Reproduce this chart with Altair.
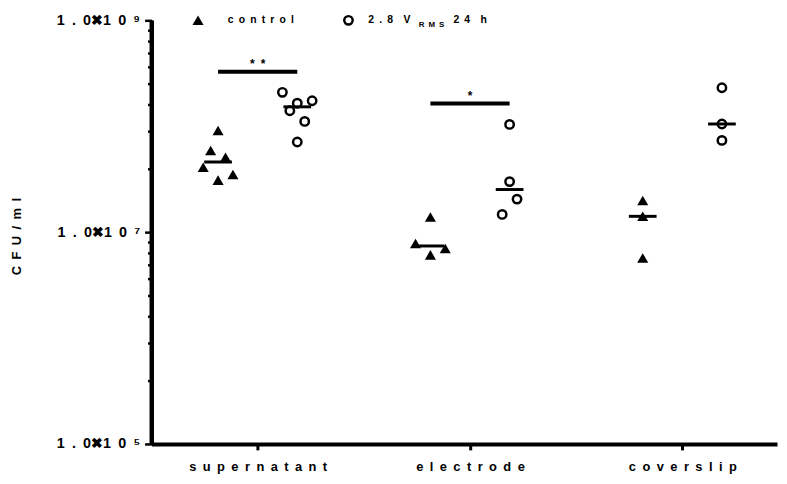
import altair as alt
import pandas as pd

# ---- data ----
categories = ["supernatant", "electrode", "coverslip"]
groups = ["control", "2.8 V RMS 24 h"]

sup_control = [9.1e7, 5.9e7, 5.1e7, 4.1e7, 3.1e7, 3.5e7]
sup_control_slot = [0, -1, 1, -2, 0, 2]
sup_treated = [2.09e8, 1.65e8, 1.74e8, 1.40e8, 1.11e8, 7.1e7]
sup_treated_slot = [-2, 0, 2, -1, 1, 0]

ele_control = [1.39e7, 7.8e6, 7.0e6, 6.1e6]
ele_control_slot = [0, -2, 2, 0]
ele_treated = [1.04e8, 3.0e7, 2.05e7, 1.47e7]
ele_treated_slot = [0, 0, 1, -1]

cov_control = [1.99e7, 1.41e7, 5.7e6]
cov_control_slot = [0, 0, 0]
cov_treated = [2.31e8, 1.05e8, 7.35e7]
cov_treated_slot = [0, 0, 0]

sig_categories = ["supernatant", "electrode"]
sig_labels = ["*\u2002*", "*"]
sig_values = [3.27e8, 1.64e8]

y_major = [1e5, 1e7, 1e9]
minor_mult = [4, 9, 16, 25, 36, 49, 64, 81]
x_domain = [-0.5, 2.446]

# ---- build table ----
rows = []
series = [
    ("supernatant", "control", sup_control, sup_control_slot),
    ("supernatant", groups[1], sup_treated, sup_treated_slot),
    ("electrode", "control", ele_control, ele_control_slot),
    ("electrode", groups[1], ele_treated, ele_treated_slot),
    ("coverslip", "control", cov_control, cov_control_slot),
    ("coverslip", groups[1], cov_treated, cov_treated_slot),
]
for cat, grp, vals, slots in series:
    for v, s in zip(vals, slots):
        rows.append({"ci": categories.index(cat),
                     "gs": -1 if grp == "control" else 1,
                     "slot": s, "value": v, "group": grp})
df = pd.DataFrame(rows)

sig_df = pd.DataFrame({"ci": [categories.index(c) for c in sig_categories],
                       "label": sig_labels, "value": sig_values})

GOFF = 0.1865
SLOT = 0.035
FONT = "Liberation Sans"
ES = "\u2002"

tick_values = y_major + [m * b for b in [1e5, 1e7] for m in minor_mult]
major_test = " || ".join(f"datum.value == {v:.0f}" for v in y_major)
sup = {5: "\u2075", 7: "\u2077", 9: "\u2079"}
lab = lambda e: f"1{ES}.{ES}0\u27161{ES}0{ES}{sup[e]}"
y_label_expr = (f"datum.value == 1e9 ? '{lab(9)}' : datum.value == 1e7 ? '{lab(7)}' : "
                f"datum.value == 1e5 ? '{lab(5)}' : ''")

x_labels = [ES.join(list(c)) for c in categories]
x_label_expr = "[" + ",".join(f"'{s}'" for s in x_labels) + "][datum.value]"

xs = alt.Scale(domain=x_domain, nice=False, zero=False, padding=0)
ys = alt.Scale(type="log", domain=[y_major[0], y_major[-1]], nice=False)

X = alt.X("x:Q", scale=xs, title=None,
          axis=alt.Axis(values=[0, 1, 2], labelExpr=x_label_expr, grid=False,
                        domainWidth=4, domainColor="black", tickColor="black",
                        tickWidth=3, tickSize=6, labelPadding=11,
                        labelFont=FONT, labelFontWeight="bold", labelFontSize=13,
                        labelColor="black"))
Y = alt.Y("y:Q", scale=ys,
          axis=alt.Axis(values=tick_values, labelExpr=y_label_expr, grid=False,
                        domainWidth=4, domainColor="black",
                        tickColor="black", tickWidth=2.5,
                        tickSize={"condition": {"test": major_test, "value": 7}, "value": 4},
                        labelPadding=5, labelFont=FONT, labelFontWeight="bold",
                        labelFontSize=14.5, labelColor="black",
                        title=ES.join(list("CFU/ml")), titleFont=FONT,
                        titleFontWeight="bold", titleFontSize=13, titleColor="black",
                        titleX=-136, titleY=218, titleAngle=270,
                        titleAlign="center", titleBaseline="middle"))

base = alt.Chart(df).transform_calculate(
    x=f"datum.ci + datum.gs * {GOFF} + datum.slot * {SLOT}", y="datum.value")

tri = base.transform_filter("datum.gs < 0").mark_point(
    shape="triangle-up", filled=True, size=125, color="black", opacity=1
).encode(x=X, y=Y)

circ = base.transform_filter("datum.gs > 0").mark_point(
    shape="circle", filled=False, size=72, color="black", strokeWidth=2.5, opacity=1
).encode(x=X, y=Y)

med = alt.Chart(df).transform_aggregate(
    med="median(value)", groupby=["ci", "gs"]
).transform_calculate(
    x=f"datum.ci + datum.gs * {GOFF}", y="datum.med"
).mark_tick(orient="horizontal", size=28, thickness=3, color="black", opacity=1
).encode(x=X, y=Y)

sig = alt.Chart(sig_df).transform_calculate(
    x=f"datum.ci - {GOFF}", x2=f"datum.ci + {GOFF}", y="datum.value")
sig_bar = sig.mark_rule(strokeWidth=4, color="black").encode(
    x=X, x2="x2:Q", y=Y)
sig_txt = alt.Chart(sig_df).transform_calculate(
    x="datum.ci", y="datum.value"
).mark_text(
    font=FONT, fontWeight="bold", fontSize=12, baseline="bottom", dy=-1, color="black"
).encode(x=X, y=Y, text="label:N")

# thick y axis line along the domain, drawn as a thin filled bar
yline_df = pd.DataFrame({"x": [x_domain[0]], "y": [y_major[0]], "y2": [y_major[-1]]})
yline = alt.Chart(yline_df).mark_bar(width=4, color="black", opacity=1).encode(
    x=X, y=Y, y2="y2:Q")

# ---- legend ----
leg_df = pd.DataFrame({"g": groups})
LFS = 10.5
leg_tri = alt.Chart(leg_df).transform_filter("datum.g == 'control'").mark_point(
    shape="triangle-up", filled=True, size=125, color="black", opacity=1
).encode(x=alt.value(47), y=alt.value(0))
leg_circ = alt.Chart(leg_df).transform_filter("datum.g != 'control'").mark_point(
    shape="circle", filled=False, size=72, color="black", strokeWidth=2.5, opacity=1
).encode(x=alt.value(199), y=alt.value(0))
leg_t1 = alt.Chart(leg_df).transform_filter("datum.g == 'control'").transform_calculate(
    t="join(split(datum.g, ''), '\u2002')"
).mark_text(font=FONT, fontWeight="bold", fontSize=LFS, align="left",
            baseline="middle", color="black").encode(
    x=alt.value(77), y=alt.value(0), text="t:N")
leg_t2 = alt.Chart(leg_df).transform_filter("datum.g != 'control'").mark_text(
    font=FONT, fontWeight="bold", fontSize=LFS, align="left", baseline="middle",
    color="black").encode(x=alt.value(219), y=alt.value(0),
                          text=alt.value(f"2{ES}.{ES}8{ES}{ES}V"))
leg_t3 = alt.Chart(leg_df).transform_filter("datum.g != 'control'").mark_text(
    font=FONT, fontWeight="bold", fontSize=8, align="left", baseline="middle",
    color="black").encode(x=alt.value(270), y=alt.value(5),
                          text=alt.value(f"R{ES}M{ES}S"))
leg_t4 = alt.Chart(leg_df).transform_filter("datum.g != 'control'").mark_text(
    font=FONT, fontWeight="bold", fontSize=LFS, align="left", baseline="middle",
    color="black").encode(x=alt.value(305), y=alt.value(0),
                          text=alt.value(f"2{ES}4{ES}{ES}h"))

chart = alt.layer(
    yline, tri, circ, med, sig_bar, sig_txt,
    leg_tri, leg_circ, leg_t1, leg_t2, leg_t3, leg_t4
).properties(
    width=632, height=428,
    autosize=alt.AutoSizeParams(type="none"),
    padding={"left": 145, "top": 10, "right": 2, "bottom": 36},
).configure_view(stroke=None)

chart.save("out.html", embed_options={"renderer": "svg", "actions": False})
